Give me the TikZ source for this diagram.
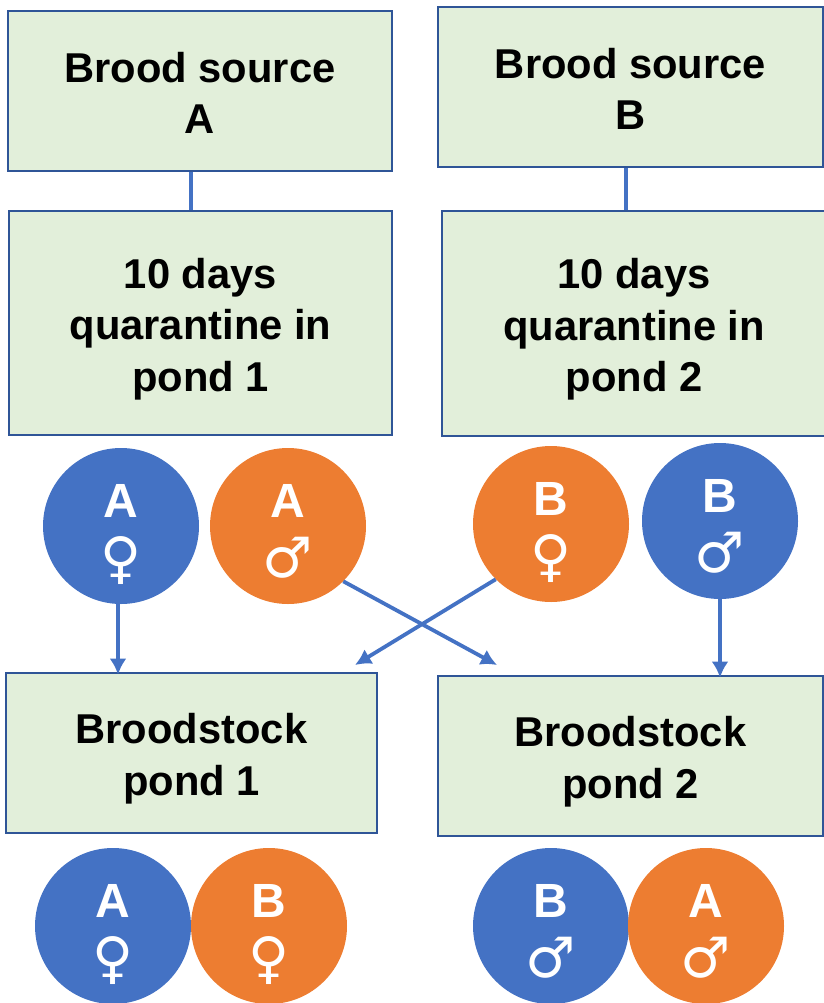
\documentclass[tikz,border=0pt]{standalone}
\usepackage{fontspec}
\setmainfont{Liberation Sans}
\newfontfamily\symfont{DejaVu Sans}
\usetikzlibrary{arrows.meta,positioning,calc}
\definecolor{boxfill}{HTML}{E2EFDA}
\definecolor{boxline}{HTML}{2F5597}
\definecolor{fishblue}{HTML}{4472C4}
\definecolor{fishorange}{HTML}{ED7D31}
\newcommand{\sym}[1]{\smash{\fontsize{56}{60}\selectfont\mdseries\symfont #1}}
\newcommand{\gap}[1]{\rule{0pt}{#1}}
\tikzstyle{pondbox} = [draw=boxline,fill=boxfill,line width=2.8pt,inner sep=0pt,align=center,font=\fontsize{41.7}{51.5}\selectfont\bfseries]
\tikzstyle{fish} = [circle,minimum size=156pt,inner sep=0pt,text=white,align=center,font=\fontsize{48}{60}\selectfont\bfseries]
\tikzstyle{transfer} = [line width=3.8pt,fishblue,arrows={-Latex[length=16pt,width=17pt]}]

\begin{document}
\begin{tikzpicture}[x=1pt,y=-1pt]
                  \useasboundingbox (0,0) rectangle (823,1003);

                  \node (srcA)[pondbox,minimum width=384pt,minimum height=160pt]  at (200,91) {\gap{34pt}Brood source\\A};
                  \node (srcB)[pondbox,minimum width=385pt,minimum height=160pt]  at (630.5,87) {\gap{34pt}Brood source\\B};
                  \node (quarA)[pondbox,minimum width=383pt,minimum height=224pt]  at (200.5,323) {\gap{42pt}10 days\\quarantine in\\pond 1};
                  \node (quarB)[pondbox,minimum width=384pt,minimum height=225pt]  at (634,323.5) {\gap{42pt}10 days\\quarantine in\\pond 2};
                  \node (stockA)[pondbox,minimum width=371pt,minimum height=160pt]  at (191.5,753) {\gap{42pt}Broodstock\\pond 1};
                  \node (stockB)[pondbox,minimum width=385pt,minimum height=160pt]  at (630.5,756) {\gap{42pt}Broodstock\\pond 2};

                  \node (femA)[fish,fill=fishblue]  at (121,526) {\gap{42pt}A\\\sym{♀}};
                  \node (malA)[fish,fill=fishorange]  at (288,526) {\gap{42pt}A\\\sym{♂}};
                  \node (femB)[fish,fill=fishorange]  at (551,524) {\gap{42pt}B\\\sym{♀}};
                  \node (malB)[fish,fill=fishblue]  at (720,521) {\gap{42pt}B\\\sym{♂}};

                  \node (outA1)[fish,fill=fishblue]  at (113,926) {\gap{42pt}A\\\sym{♀}};
                  \node (outB1)[fish,fill=fishorange]  at (269,926) {\gap{42pt}B\\\sym{♀}};
                  \node (outB2)[fish,fill=fishblue]  at (551,926) {\gap{42pt}B\\\sym{♂}};
                  \node (outA2)[fish,fill=fishorange]  at (706,926) {\gap{42pt}A\\\sym{♂}};

                  \coordinate (inA) at (355,665);
                  \coordinate (inB) at (497,665);

                  \draw[fishblue,line width=3.8pt] ([xshift=-9pt]srcA.south) -- ([xshift=-9pt]srcA.south |- quarA.north);
                  \draw[fishblue,line width=3.8pt] ([xshift=-4.5pt]srcB.south) -- ([xshift=-4.5pt]srcB.south |- quarB.north);
                  \draw[transfer] ([xshift=-3pt]femA.south) -- ([xshift=-3pt,yshift=-3pt]femA.south |- stockA.north);
                  \draw[transfer] (malB.south) -- ([yshift=-3pt]malB.south |- stockB.north);
                  \draw[transfer] (malA.-45) -- (inB);
                  \draw[transfer] (femB.-135) -- (inA);
            \end{tikzpicture}
\end{document}
